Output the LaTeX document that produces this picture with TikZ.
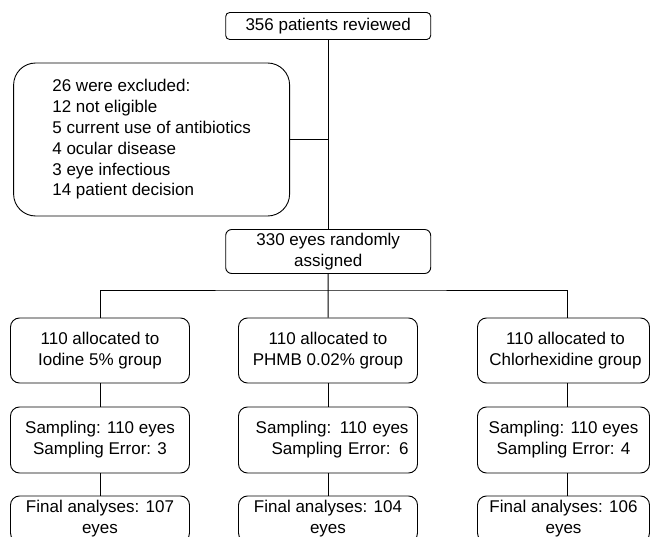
\documentclass[tikz,border=0pt]{standalone}
\usepackage{fontspec}
\setmainfont{Liberation Sans}
\usepackage{tikz}
\usetikzlibrary{positioning,calc}

\tikzset{
    box/.style={draw, line width=0.9pt, rounded corners=9pt, align=center,
        minimum width=179pt, inner sep=0pt, font=\fontsize{17}{20.8}\selectfont},
    narrowbox/.style={box, minimum width=172pt},
    link/.style={line width=0.9pt}
}

\begin{document}
\begin{tikzpicture}[x=1pt,y=-1pt]
    \clip (0,0) rectangle (651,537);
    
    % Screening
    \node[box, rounded corners=4pt, minimum width=205pt, minimum height=27pt] (top) at (328.2,26) {356 patients reviewed};
    \node[box, rounded corners=22pt, align=left, minimum width=276pt, minimum height=153pt] (excl) at (151.6,139.5)
        {26 were excluded:\\12 not eligible\\5 current use of antibiotics\\4 ocular disease\\3 eye infectious\\14 patient decision};
    \node[box, rounded corners=6pt, minimum width=205pt, minimum height=44pt] (rand) at (328.2,251.5) {330 eyes randomly\\assigned};
    
    % Groups
    \node[box, minimum height=65pt] (g1) at (100,350.5) {110 allocated to\\Iodine 5\% group};
    \node[box, minimum height=65pt] (g2) at (328,350.5) {110 allocated to\\PHMB 0.02\% group};
    \node[narrowbox, minimum height=65pt] (g3) at (563.5,350.5) {\hspace*{4pt}110 allocated to\\\hspace*{4pt}Chlorhexidine group};
    
    % Sampling
    \node[box, minimum height=66pt] (s1) at (100,440) {Sampling: 110 eyes\\Sampling Error: 3};
    \node[box, minimum height=66pt, align=right, text width=161pt] (s2) at (328,440) {Sampling: 110 eyes\\Sampling Error: 6};
    \node[narrowbox, minimum height=66pt] (s3) at (563.5,440) {Sampling: 110 eyes\\Sampling Error: 4};
    
    % Final analyses
    \node[box, minimum height=46pt] (f1) at (100,519) {Final analyses: 107\\eyes};
    \node[box, minimum height=46pt] (f2) at (328,519) {Final analyses: 104\\eyes};
    \node[narrowbox, minimum height=46pt] (f3) at (563.5,519) {Final analyses: 106\\eyes};
    
    % Connectors
    \coordinate (split) at (328,290);
    \coordinate (col3) at (567,290);
    \draw[link] (top) -- (rand);
    \draw[link] (excl.east) -- (excl.east -| top.south);
    \draw[link] (rand) -- (g2);
    \draw[link] (g1.north) |- (split) -- (col3) -- (col3 |- g3.north);
    \foreach \i in {1,2} {
        \draw[link] (g\i) -- (s\i);
        \draw[link] (s\i) -- (f\i);
    }
    \draw[link] (col3 |- g3.south) -- (col3 |- s3.north);
    \draw[link] (col3 |- s3.south) -- (col3 |- f3.north);
\end{tikzpicture}
\end{document}
